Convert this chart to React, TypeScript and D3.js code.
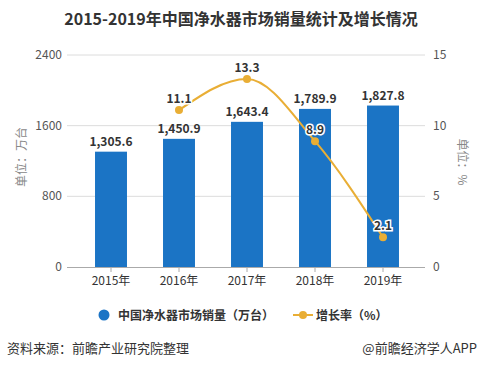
import { useEffect, useRef } from 'react'
import * as d3 from 'd3'

const years = ['2015年', '2016年', '2017年', '2018年', '2019年']
const sales = [1305.6, 1450.9, 1643.4, 1789.9, 1827.8]
const growthYears = ['2016年', '2017年', '2018年', '2019年']
const growth = [11.1, 13.3, 8.9, 2.1]
const leftTicks = [0, 800, 1600, 2400]
const rightTicks = [0, 5, 10, 15]

const FONT = '"Microsoft YaHei", "Noto Sans CJK SC", sans-serif'
const BLUE = '#1b74c5'
const GOLD = '#e9ae35'

export default function App() {
  const svgRef = useRef<SVGSVGElement>(null)

  useEffect(() => {
    const svg = d3.select(svgRef.current)
    svg.selectAll('*').remove()

    const left = 67
    const right = 425
    const top = 55
    const bottom = 267

    const x = d3.scaleBand()
      .domain(years)
      .range([77, 417])
      .paddingInner(0.53)
      .paddingOuter(0.265)

    const yL = d3.scaleLinear().domain([0, 2400]).range([bottom, top])
    const yR = d3.scaleLinear().domain([0, 15]).range([bottom, top])

    svg.append('rect').attr('width', 480).attr('height', 369).attr('fill', '#fff')

    // Title
    svg.append('text')
      .attr('x', 241)
      .attr('y', 25)
      .attr('text-anchor', 'middle')
      .attr('font-family', FONT)
      .attr('font-size', 16)
      .attr('font-weight', 'bold')
      .attr('fill', '#333')
      .text('2015-2019年中国净水器市场销量统计及增长情况')

    // Grid lines
    svg.append('g')
      .selectAll('line')
      .data(leftTicks.slice(1))
      .enter()
      .append('line')
      .attr('x1', left)
      .attr('x2', right)
      .attr('y1', d => yL(d))
      .attr('y2', d => yL(d))
      .attr('stroke', '#dcdcdc')
      .attr('stroke-width', 1)

    // Left tick labels
    svg.append('g')
      .selectAll('text')
      .data(leftTicks)
      .enter()
      .append('text')
      .attr('x', 62)
      .attr('y', d => yL(d) + 4)
      .attr('text-anchor', 'end')
      .attr('font-family', FONT)
      .attr('font-size', 12)
      .attr('fill', '#555')
      .text(d => d)

    // Right tick labels
    svg.append('g')
      .selectAll('text')
      .data(rightTicks)
      .enter()
      .append('text')
      .attr('x', 433)
      .attr('y', d => yR(d) + 4)
      .attr('text-anchor', 'start')
      .attr('font-family', FONT)
      .attr('font-size', 12)
      .attr('fill', '#555')
      .text(d => d)

    // Axis titles
    svg.append('text')
      .attr('transform', 'translate(26,157) rotate(-90)')
      .attr('text-anchor', 'middle')
      .attr('font-family', FONT)
      .attr('font-size', 12)
      .attr('fill', '#888')
      .text('单位：万台')

    svg.append('text')
      .attr('transform', 'translate(458,162) rotate(90)')
      .attr('text-anchor', 'middle')
      .attr('font-family', FONT)
      .attr('font-size', 12)
      .attr('fill', '#888')
      .text('单位：%')

    // Bars
    svg.append('g')
      .selectAll('rect')
      .data(sales)
      .enter()
      .append('rect')
      .attr('x', (d, i) => x(years[i]) || 0)
      .attr('y', d => yL(d))
      .attr('width', x.bandwidth())
      .attr('height', d => bottom - yL(d))
      .attr('fill', BLUE)

    // X axis
    svg.append('line')
      .attr('x1', left)
      .attr('x2', right)
      .attr('y1', bottom + 0.5)
      .attr('y2', bottom + 0.5)
      .attr('stroke', '#aaa')

    svg.append('g')
      .selectAll('line')
      .data(years)
      .enter()
      .append('line')
      .attr('x1', d => (x(d) || 0) + x.bandwidth() / 2)
      .attr('x2', d => (x(d) || 0) + x.bandwidth() / 2)
      .attr('y1', bottom)
      .attr('y2', bottom + 5)
      .attr('stroke', '#aaa')

    svg.append('g')
      .selectAll('text')
      .data(years)
      .enter()
      .append('text')
      .attr('x', d => (x(d) || 0) + x.bandwidth() / 2)
      .attr('y', 285)
      .attr('text-anchor', 'middle')
      .attr('font-family', FONT)
      .attr('font-size', 12)
      .attr('fill', '#333')
      .text(d => d)

    // Bar labels
    svg.append('g')
      .selectAll('text')
      .data(sales)
      .enter()
      .append('text')
      .attr('x', (d, i) => (x(years[i]) || 0) + x.bandwidth() / 2)
      .attr('y', d => yL(d) - 6)
      .attr('text-anchor', 'middle')
      .attr('font-family', FONT)
      .attr('font-size', 12)
      .attr('font-weight', 'bold')
      .attr('fill', '#333')
      .text(d => d3.format(',.1f')(d))

    // Growth line
    const cx = (i: number) => (x(growthYears[i]) || 0) + x.bandwidth() / 2
    const line = d3.line<number>()
      .x((d, i) => cx(i))
      .y(d => yR(d))
      .curve(d3.curveMonotoneX)

    svg.append('path')
      .datum(growth)
      .attr('d', line)
      .attr('fill', 'none')
      .attr('stroke', GOLD)
      .attr('stroke-width', 2)

    svg.append('g')
      .selectAll('circle')
      .data(growth)
      .enter()
      .append('circle')
      .attr('cx', (d, i) => cx(i))
      .attr('cy', d => yR(d))
      .attr('r', 4)
      .attr('fill', GOLD)

    svg.append('g')
      .selectAll('text')
      .data(growth)
      .enter()
      .append('text')
      .attr('x', (d, i) => cx(i))
      .attr('y', d => yR(d) - 7)
      .attr('text-anchor', 'middle')
      .attr('font-family', FONT)
      .attr('font-size', 12)
      .attr('font-weight', 'bold')
      .attr('fill', '#333')
      .attr('stroke', '#fff')
      .attr('stroke-width', 3)
      .attr('paint-order', 'stroke')
      .text(d => d3.format('.1f')(d))

    // Legend
    const legend = svg.append('g').attr('font-family', FONT).attr('font-size', 12)
    legend.append('circle').attr('cx', 104).attr('cy', 315).attr('r', 5.5).attr('fill', BLUE)
    legend.append('text')
      .attr('x', 118)
      .attr('y', 319.5)
      .attr('fill', '#333')
      .attr('font-weight', 'bold')
      .text('中国净水器市场销量（万台）')
    legend.append('line')
      .attr('x1', 293).attr('x2', 313)
      .attr('y1', 315).attr('y2', 315)
      .attr('stroke', GOLD).attr('stroke-width', 2)
    legend.append('circle').attr('cx', 303).attr('cy', 315).attr('r', 4).attr('fill', GOLD)
    legend.append('text')
      .attr('x', 316)
      .attr('y', 319.5)
      .attr('fill', '#333')
      .attr('font-weight', 'bold')
      .text('增长率（%）')

    // Footer
    svg.append('text')
      .attr('x', 7)
      .attr('y', 353)
      .attr('font-family', FONT)
      .attr('font-size', 13)
      .attr('fill', '#333')
      .text('资料来源：前瞻产业研究院整理')

    svg.append('text')
      .attr('x', 477)
      .attr('y', 353)
      .attr('text-anchor', 'end')
      .attr('font-family', FONT)
      .attr('font-size', 13)
      .attr('fill', '#333')
      .text('@前瞻经济学人APP')
  }, [])

  return (
    <svg
      ref={svgRef}
      width={480}
      height={369}
      style={{ position: 'absolute', left: 0, top: 0, display: 'block' }}
    />
  )
}
